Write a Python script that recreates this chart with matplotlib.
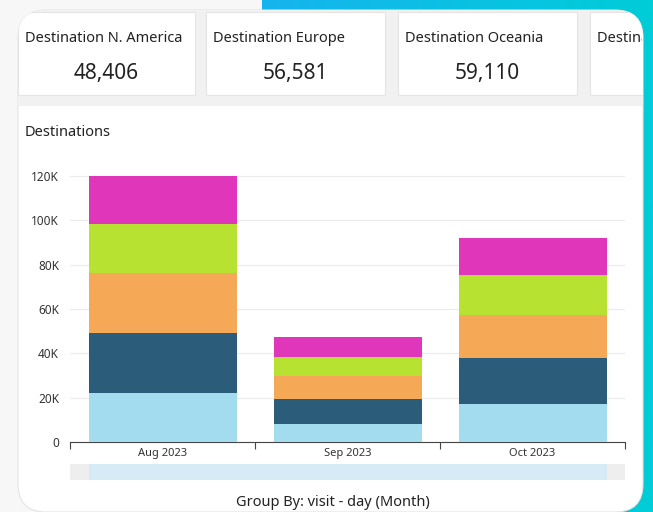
#!/usr/bin/env python3
import matplotlib
matplotlib.use("Agg")
import matplotlib.pyplot as plt
import numpy as np
from matplotlib.patches import FancyBboxPatch, Rectangle
from matplotlib.transforms import Bbox, TransformedBbox
from matplotlib.ticker import FuncFormatter

plt.rcParams['font.family'] = ['Noto Sans', 'DejaVu Sans']

# data
months = ['Aug 2023', 'Sep 2023', 'Oct 2023']
seg_lightblue = [22000, 8100, 17100]
seg_darkblue = [27300, 11300, 20900]
seg_orange = [26800, 10400, 19300]
seg_green = [22100, 8700, 18000]
seg_magenta = [21600, 8700, 16700]
kpi_titles = ['Destination N. America', 'Destination Europe', 'Destination Oceania', 'Destination Asia']
kpi_values = ['48,406', '56,581', '59,110', '']

colors = ['#a3dcef', '#2b5c7a', '#f5a856', '#b8e232', '#e036b9']

W, H = 653, 512
fig = plt.figure(figsize=(W / 100, H / 100), dpi=100)
fig.patch.set_facecolor('#f7f7f7')

# background layer in pixel coords
bg = fig.add_axes([0, 0, 1, 1])
bg.axis('off')

grad = np.linspace(0, 1, 256).reshape(1, -1)
cmap = matplotlib.colors.LinearSegmentedColormap.from_list('cy', ['#16b4ee', '#00cdd8'])
bg.imshow(grad, extent=[262, W, H, 0], cmap=cmap, aspect='auto', zorder=0)
bg.set_xlim(0, W)
bg.set_ylim(H, 0)
# light area under the card on the left
bg.add_patch(Rectangle((0, 505), 330, 10, fc='#f7f7f7', ec='none', zorder=0.5))

card = FancyBboxPatch((18, 10), 625, 502, boxstyle='round,pad=0,rounding_size=28',
                      fc='white', ec='#e4e4e4', lw=0.8, zorder=1)
bg.add_patch(card)
card_box = TransformedBbox(Bbox.from_extents(0, 0, 642, H), bg.transData)

def clipped(artist):
    artist.set_clip_on(True)
    artist.set_clip_path(card)
    return artist

clipped(bg.add_patch(Rectangle((18, 10), 625, 96, fc='#f1f1f1', ec='none', zorder=1.5)))

box_x = [18, 206, 398, 590]
box_w = [177, 179, 179, 60]
for i in range(4):
    clipped(bg.add_patch(Rectangle((box_x[i], 12), box_w[i], 83,
                                   fc='white', ec='#e4e4e4', lw=0.8, zorder=2)))
    t = bg.text(box_x[i] + 7, 38, kpi_titles[i], fontsize=10.5, color='#222222',
                va='center', ha='left', zorder=3, clip_on=True)
    t.set_clip_box(card_box)
    bg.text(box_x[i] + box_w[i] / 2, 73, kpi_values[i], fontsize=15, color='#222222',
            va='center', ha='center', zorder=3)

bg.text(25, 132, 'Destinations', fontsize=10.5, color='#222222', va='center', ha='left', zorder=3)
bg.text(333, 503, 'Group By: visit - day (Month)', fontsize=10.5, color='#222222',
        va='center', ha='center', zorder=3)

# scroll bar
bg.add_patch(Rectangle((70, 464), 555, 16, fc='#d5ebf5', ec='none', zorder=3))
bg.add_patch(Rectangle((70, 464), 19, 16, fc='#eeeeee', ec='none', zorder=3.1))
bg.add_patch(Rectangle((607, 464), 18, 16, fc='#eeeeee', ec='none', zorder=3.1))

# chart axes
left, right = 70, 625
top, bottom = 168, 442
ax = fig.add_axes([left / W, 1 - bottom / H, (right - left) / W, (bottom - top) / H])
ax.patch.set_alpha(0)
ymax = 120000 * (bottom - top) / (bottom - 176)

x = np.arange(len(months))
segs = [seg_lightblue, seg_darkblue, seg_orange, seg_green, seg_magenta]
base = np.zeros(len(months))
for s, c in zip(segs, colors):
    ax.bar(x, s, bottom=base, width=0.8, color=c, zorder=3)
    base = base + np.array(s)

ax.set_xlim(-0.5, len(months) - 0.5)
ax.set_ylim(0, ymax)
ax.set_yticks(np.arange(0, 120001, 20000))
ax.yaxis.set_major_formatter(FuncFormatter(lambda v, p: '0' if v == 0 else f'{int(v / 1000)}K'))
ax.grid(axis='y', color='#ebebeb', lw=0.8, zorder=0)
ax.set_xticks(x)
ax.set_xticklabels(months)
ax.set_xticks(np.arange(-0.5, len(months)), minor=True)
ax.tick_params(axis='x', which='major', length=0, labelsize=8, colors='#333333', pad=4)
ax.tick_params(axis='x', which='minor', length=5, width=0.8, color='#444444')
ax.tick_params(axis='y', length=0, labelsize=8.5, colors='#333333', pad=8)
for sp in ['top', 'right', 'left']:
    ax.spines[sp].set_visible(False)
ax.spines['bottom'].set_color('#444444')
ax.spines['bottom'].set_linewidth(0.8)

fig.savefig('out.png', dpi=100)
